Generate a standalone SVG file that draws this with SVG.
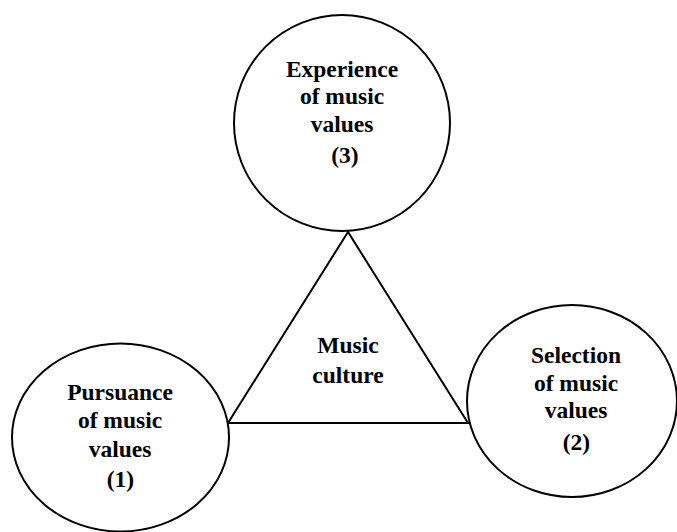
<svg xmlns="http://www.w3.org/2000/svg" width="677" height="532" viewBox="0 0 677 532">
  <style>
    .shape { fill: #ffffff; stroke: #000000; stroke-width: 2; }
    text { font-family: "Liberation Serif", "Times New Roman", serif; font-weight: 700; font-size: 23.5px; fill: #000000; text-anchor: middle; }
  </style>
  <rect width="677" height="532" fill="#ffffff"/>

  <g id="connectors">
    <!-- central triangle joining the three circles -->
    <polygon class="shape" points="348,232 228,423 468,423"/>
  </g>

  <g id="music-culture">
    <text x="348" y="353">Music</text>
    <text x="348" y="383">culture</text>
  </g>

  <g id="experience">
    <ellipse class="shape" cx="342" cy="123" rx="108" ry="108"/>
    <text x="342" y="77">Experience</text>
    <text x="342" y="104">of music</text>
    <text x="342" y="132">values</text>
    <text x="345" y="163">(3)</text>
  </g>

  <g id="pursuance">
    <ellipse class="shape" cx="120.5" cy="437.5" rx="108.5" ry="94"/>
    <text x="120" y="400">Pursuance</text>
    <text x="120" y="428">of music</text>
    <text x="120" y="457">values</text>
    <text x="120.5" y="487">(1)</text>
  </g>

  <g id="selection">
    <ellipse class="shape" cx="572" cy="401" rx="105" ry="96"/>
    <text x="576" y="363">Selection</text>
    <text x="576" y="391">of music</text>
    <text x="576" y="418">values</text>
    <text x="576.5" y="450">(2)</text>
  </g>
</svg>
